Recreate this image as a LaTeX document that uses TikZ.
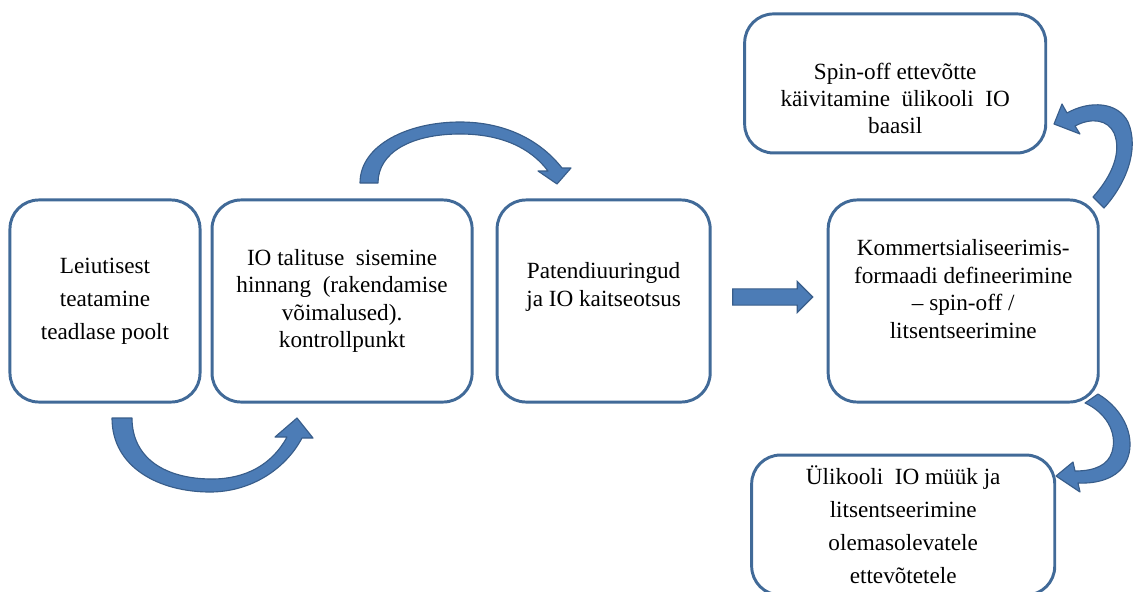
\documentclass[tikz,border=0pt]{standalone}
\usepackage{fontspec}
\setmainfont{Liberation Serif}
\usetikzlibrary{positioning,shapes.arrows}

\definecolor{boxblue}{RGB}{65,106,152}
\definecolor{arrowblue}{RGB}{76,124,182}
\definecolor{arrowedge}{RGB}{56,93,138}

\begin{document}
\begin{tikzpicture}[x=0.025cm, y=-0.025cm,
        stepbox/.style={draw=boxblue, line width=2.1pt, rounded corners=0.72cm,
            fill=white, inner sep=0pt, outer sep=0pt},
        steptext/.style={align=center, inner sep=0pt, font=\fontsize{16.5}{19.5}\selectfont},
        widetext/.style={font=\fontsize{16.5}{23.5}\selectfont},
        bigarrow/.style={fill=arrowblue, draw=arrowedge, line width=0.8pt, line join=round}]
    \useasboundingbox (0,0) rectangle (1136,591);

    % the boxes
    \node[stepbox, minimum width=4.75cm, minimum height=5.05cm] (b1) at (105,301) {};
    \node[stepbox, minimum width=6.5cm, minimum height=5.05cm, right=0.3cm of b1] (b2) {};
    \node[stepbox, minimum width=5.325cm, minimum height=5.05cm, right=0.625cm of b2] (b3) {};
    \node[stepbox, minimum width=6.75cm, minimum height=5.05cm, right=2.95cm of b3] (b4) {};
    \node[stepbox, minimum width=7.525cm, minimum height=3.475cm, above=1.175cm of b4, xshift=-1.7cm] (b5) {};
    \node[stepbox, minimum width=7.575cm, minimum height=3.5cm, below=1.325cm of b4, xshift=-1.5cm] (b6) {};

    % the texts
    \node[steptext, widetext] (t1) at (b1) {Leiutisest\\teatamine\\teadlase poolt};
    \node[steptext] (t2) at (b2) {IO talituse~ sisemine\\hinnang~ (rakendamise\\võimalused).\\kontrollpunkt};
    \node[steptext] (t3) at ([yshift=0.35cm]b3.center) {Patendiuuringud\\ja IO kaitseotsus};
    \node[steptext] (t4) at ([yshift=0.3cm]b4.center) {Kommertsialiseerimis-\\formaadi defineerimine\\– spin-off /\\litsentseerimine};
    \node[steptext] (t5) at ([yshift=-0.375cm]b5.center) {Spin-off ettevõtte\\käivitamine~ ülikooli~ IO\\baasil};
    \node[steptext, widetext] (t6) at (b6) {Ülikooli~ IO müük ja\\litsentseerimine\\olemasolevatele\\ettevõtetele};

    % straight arrow b3 -> b4
    \node[single arrow, fill=arrowblue, draw=arrowedge, line width=0.8pt, inner xsep=0pt, inner ysep=0.1875cm,
        minimum height=2cm, single arrow head extend=0.1875cm,
        right=0.55cm of b3, yshift=0.1cm] (a3) {};

    % curved arrows
    \draw[bigarrow] (112,418) .. controls (112,468) and (160,492) .. (210,492)
        .. controls (250,492) and (285,470) .. (302,438) -- (313,438) -- (297,418) -- (275,437) -- (287,437)
        .. controls (272,465) and (245,479) .. (212,479)
        .. controls (165,479) and (132,458) .. (132,418) -- cycle;
    \draw[bigarrow] (360,183) .. controls (360,145) and (408,122) .. (460,122)
        .. controls (505,122) and (540,140) .. (562,168) -- (571,168) -- (557,184) -- (538,171) -- (548,171)
        .. controls (530,147) and (500,134) .. (460,134)
        .. controls (412,134) and (378,152) .. (378,183) -- cycle;
    \draw[bigarrow] (1093,197) -- (1104,208) .. controls (1125,185) and (1140,150) .. (1128,122)
        .. controls (1118,102) and (1090,100) .. (1067,113) -- (1062,104) -- (1054,124) -- (1080,134) -- (1075,126)
        .. controls (1092,117) and (1108,120) .. (1114,133)
        .. controls (1122,152) and (1112,176) .. (1093,197) -- cycle;
    \draw[bigarrow] (1085,403) -- (1098,394) .. controls (1125,410) and (1137,440) .. (1126,462)
        .. controls (1118,478) and (1098,484) .. (1078,483) -- (1080,492) -- (1056,476) -- (1073,462) -- (1075,471)
        .. controls (1095,471) and (1108,465) .. (1112,452)
        .. controls (1118,432) and (1105,412) .. (1085,403) -- cycle;
\end{tikzpicture}
\end{document}
